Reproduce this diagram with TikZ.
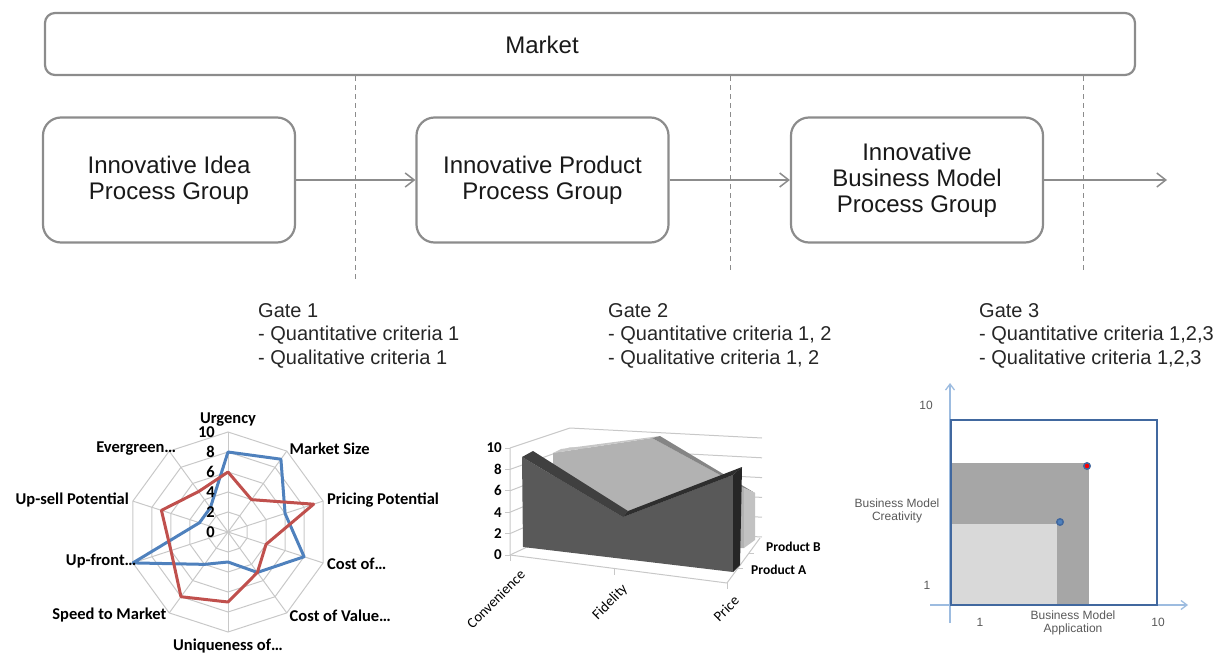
\documentclass[tikz,border=0pt]{standalone}
\usepackage{fontspec}
\setmainfont{Liberation Sans}
\newfontfamily\chartfont{Carlito}
\usetikzlibrary{arrows.meta}

\definecolor{boxgray}{HTML}{8C8C8C}
\definecolor{serblue}{HTML}{4F81BD}
\definecolor{serred}{HTML}{C0504D}
\definecolor{gridgray}{HTML}{C8C8C8}
\definecolor{axisblue}{HTML}{9DBCE0}
\definecolor{frameblue}{HTML}{41689F}

\tikzset{
    mktbox/.style={draw=boxgray, line width=2.2pt, rounded corners=10pt, minimum width=1090pt, minimum height=62pt},
    procbox/.style={draw=boxgray, line width=2.2pt, rounded corners=18pt, minimum width=252pt, minimum height=125pt,
        align=center, font=\fontsize{24}{26}\selectfont, text=black!90},
    flow/.style={draw=boxgray, line width=1.5pt, -{Straight Barb[length=9pt,width=14pt]}},
    gateline/.style={draw=boxgray, line width=1pt, dash pattern=on 5pt off 4pt},
    gatetext/.style={anchor=north west, align=left, inner sep=0pt, font=\fontsize{20}{23.5}\selectfont, text=black!85},
    radarlbl/.style={font=\chartfont\bfseries\fontsize{16.5}{18}\selectfont, inner sep=1pt},
    chartlbl/.style={font=\chartfont\fontsize{14.5}{16}\selectfont, inner sep=1pt},
    chartnum/.style={font=\chartfont\bfseries\fontsize{15}{16}\selectfont, inner sep=1pt},
    wallgrid/.style={draw=gridgray, line width=1pt},
    scatlbl/.style={font=\fontsize{12}{12.5}\selectfont, text=black!65, align=center, inner sep=0pt},
}

\begin{document}
\begin{tikzpicture}[x=1pt, y=-1pt]
    \useasboundingbox (0,0) rectangle (1232,659);

    % market and process groups
    \node[mktbox] (market) at (590,44) {};
    \node[font=\fontsize{24}{26}\selectfont, text=black!90] (mktlbl) at (542,45) {Market};

    \node[procbox] (idea) at (169,180) {Innovative Idea\\Process Group};
    \node[procbox] (product) at (542.5,180) {Innovative Product\\Process Group};
    \node[procbox] (bizmodel) at (917,180) {Innovative\\Business Model\\Process Group};
    \coordinate (next) at (1167,180);

    \coordinate (g1) at (355,283);
    \coordinate (g2) at (730,272);
    \coordinate (g3) at (1083,272);
    \draw[gateline] (market.south -| g1) -- (g1);
    \draw[gateline] (market.south -| g2) -- (g2);
    \draw[gateline] (market.south -| g3) -- (g3);

    \draw[flow] (idea) -- (product);
    \draw[flow] (product) -- (bizmodel);
    \draw[flow] (bizmodel) -- (next);

    % gates
    \node[gatetext] (gate1) at (258,303) {Gate 1\\- Quantitative criteria 1\\- Qualitative criteria 1};
    \node[gatetext] (gate2) at (608,303) {Gate 2\\- Quantitative criteria 1, 2\\- Qualitative criteria 1, 2};
    \node[gatetext] (gate3) at (979,303) {Gate 3\\- Quantitative criteria 1,2,3\\- Qualitative criteria 1,2,3};

    % radar chart
    \begin{scope}[shift={(228,532)}, yscale=-1]
        \foreach \r in {20,40,...,100}
            \draw[wallgrid] (90:\r) \foreach \a in {54,18,...,-234} {-- (\a:\r)} -- cycle;
        \foreach \a in {90,54,...,-234}
            \draw[wallgrid] (0,0) -- (\a:100);
        \draw[serblue, line width=3pt, line join=round] (90:80) -- (54:90) -- (18:60) -- (-18:80) -- (-54:50)
            -- (-90:30) -- (-126:40) -- (-162:100) -- (162:30) -- (126:30) -- cycle;
        \draw[serred, line width=3pt, line join=round] (90:60) -- (54:40) -- (18:90) -- (-18:40) -- (-54:50)
            -- (-90:70) -- (-126:80) -- (-162:60) -- (162:70) -- (126:50) -- cycle;
        \node[radarlbl, anchor=south] (urgency) at (90:105) {Urgency};
        \node[radarlbl, anchor=west] (mktsize) at (54:103) {Market Size};
        \node[radarlbl, anchor=west] (pricing) at (18:103) {Pricing Potential};
        \node[radarlbl, anchor=west] (costof) at (-18:103) {Cost of\ldots};
        \node[radarlbl, anchor=west] (costval) at (-54:103) {Cost of Value\ldots};
        \node[radarlbl, anchor=north] (unique) at (-90:106) {Uniqueness of\ldots};
        \node[radarlbl, anchor=east] (speed) at (-126:103) {Speed to Market};
        \node[radarlbl, anchor=east] (upfront) at (-162:95) {Up-front\ldots};
        \node[radarlbl, anchor=east] (upsell) at (162:103) {Up-sell Potential};
        \node[radarlbl, anchor=east, xshift=10pt] (evergreen) at (126:103) {Evergreen\ldots};
    \end{scope}
    \foreach \v in {0,2,...,10}
        \node[chartnum, font=\chartfont\bfseries\fontsize{16.5}{17}\selectfont, anchor=east] (rn\v) at (216,532-10*\v) {\v};

    % 3d area chart
    \foreach \k in {0,2,...,10} {
        \draw[wallgrid] (510,555-10.7*\k) -- (570,527-9.9*\k) -- (762,537-9.9*\k);
        \draw[wallgrid] (505,555-10.7*\k) -- (510,555-10.7*\k);
        \node[chartnum, anchor=east] (an\k) at (503,555-10.7*\k) {\k};
    }
    \draw[wallgrid] (510,448) -- (510,555) -- (727,583) -- (760,538);
    \draw[wallgrid] (510,555) -- (510,561);
    \draw[wallgrid] (614,569) -- (614,575);
    \draw[wallgrid] (727,583) -- (727,589);
    \draw[wallgrid] (738,568) -- (743,568);
    \draw[wallgrid] (749,553) -- (754,553);

    % product B
    \fill[black!30] (553,453) -- (652,438) -- (744,488) -- (744,548) -- (553,548) -- cycle;
    \fill[black!22] (553,453) -- (561,449) -- (660,436) -- (652,438) -- cycle;
    \fill[black!48] (652,438) -- (660,436) -- (755,493) -- (744,488) -- cycle;
    \fill[black!24] (744,488) -- (755,493) -- (755,540) -- (744,548) -- cycle;
    % product A
    \fill[black!65] (523,547) -- (522,457) -- (623,517) -- (733,475) -- (733,572) -- cycle;
    \fill[black!75] (522,457) -- (533,451) -- (628,511) -- (623,517) -- cycle;
    \fill[black!82] (623,517) -- (628,511) -- (742,467) -- (733,475) -- cycle;
    \fill[black!85] (733,475) -- (742,467) -- (740,565) -- (733,572) -- cycle;

    \node[chartlbl, rotate=45, anchor=north east] (conv) at (519,567) {Convenience};
    \node[chartlbl, rotate=45, anchor=north east] (fidel) at (621,581) {Fidelity};
    \node[chartlbl, rotate=45, anchor=north east] (price) at (733,593) {Price};
    \node[chartnum, font=\chartfont\bfseries\fontsize{13.5}{14}\selectfont, anchor=west] (prodb) at (765,547) {Product B};
    \node[chartnum, font=\chartfont\bfseries\fontsize{13.5}{14}\selectfont, anchor=west] (proda) at (750,570) {Product A};

    % business model chart
    \draw[axisblue, line width=1.3pt, -{Straight Barb[length=6pt,width=9pt]}] (930,605) -- (1188,605);
    \draw[axisblue, line width=1.3pt, -{Straight Barb[length=6pt,width=9pt]}] (950,623) -- (950,383);
    \fill[black!35] (951,463) rectangle (1089,605);
    \fill[black!15] (951,524) rectangle (1057,605);
    \draw[frameblue, line width=2pt] (951,420) rectangle (1157,605);
    \filldraw[fill=red, draw=frameblue, line width=1.5pt] (1087,466) circle (3.2);
    \filldraw[fill=serblue, draw=frameblue, line width=1.5pt] (1060,522) circle (3.2);
    \node[scatlbl] (ytop) at (926,405) {10};
    \node[scatlbl] (ybot) at (927,585) {1};
    \node[scatlbl] (ylbl) at (897,511) {Business Model\\Creativity};
    \node[scatlbl] (xbot) at (980,622) {1};
    \node[scatlbl] (xlbl) at (1073,623) {Business Model\\Application};
    \node[scatlbl] (xtop) at (1158,622) {10};
\end{tikzpicture}
\end{document}
